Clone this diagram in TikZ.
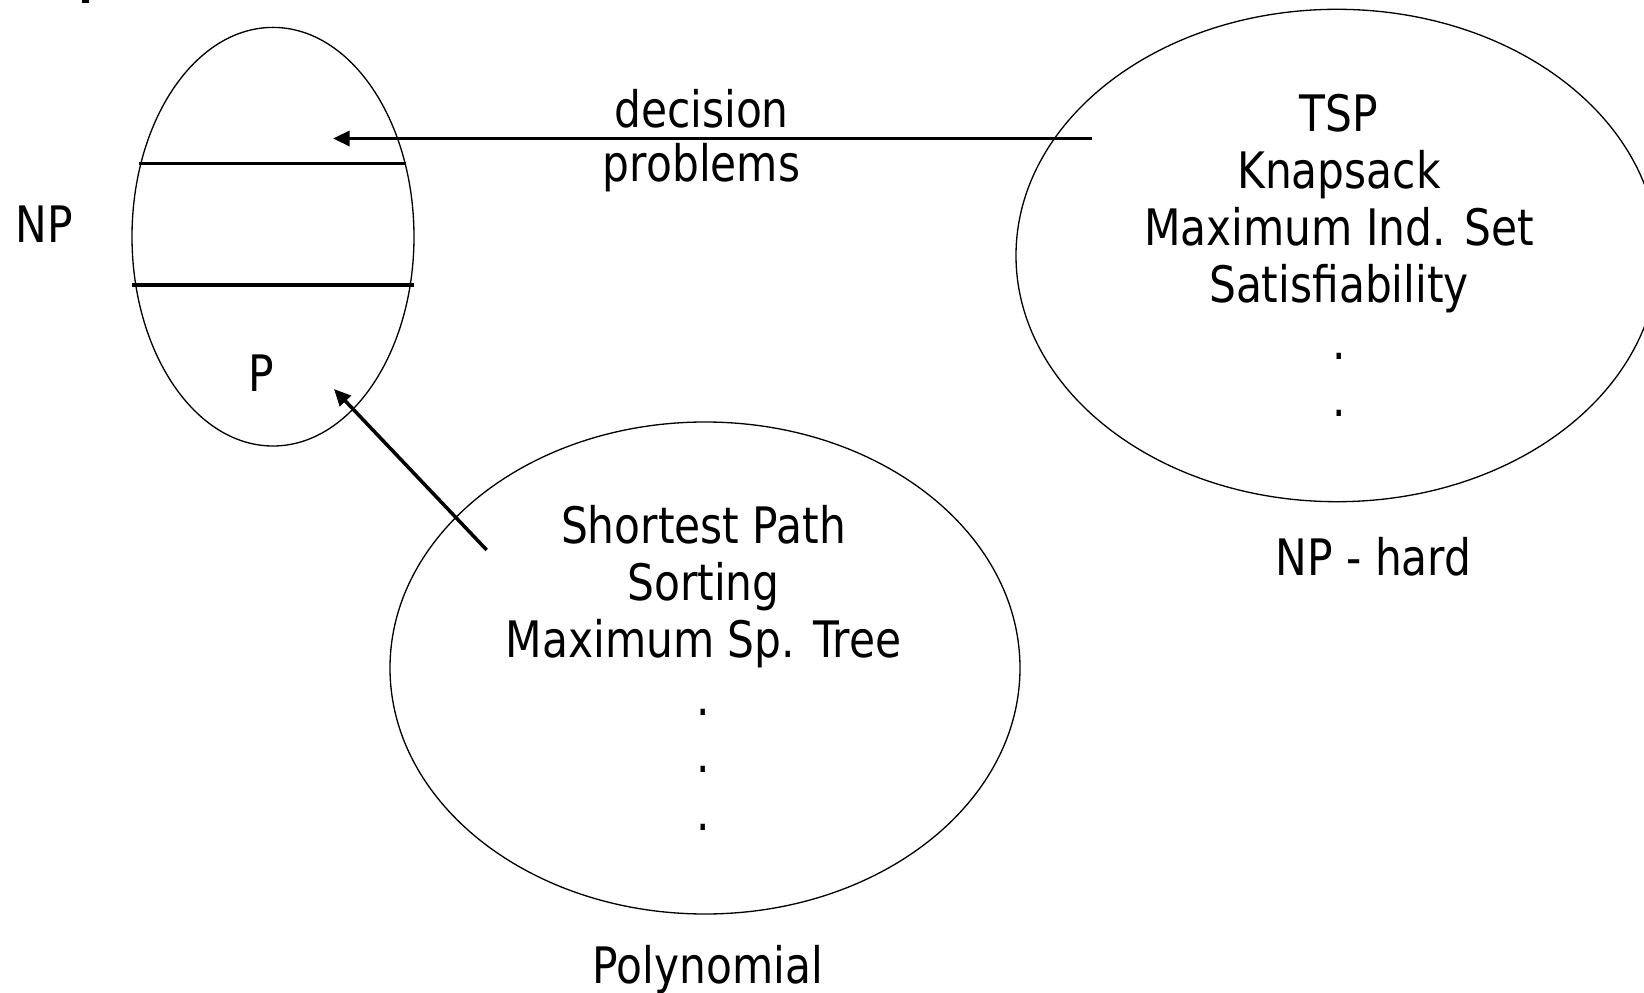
\documentclass[tikz,border=0pt]{standalone}
\usepackage{fontspec}
\setmainfont{DejaVu Sans}[FakeStretch=0.843]
\usetikzlibrary{arrows.meta}

\tikzset{
  txt/.style={font=\fontsize{28.6}{32}\selectfont,inner sep=0pt,anchor=base},
  set/.style={line width=0.75pt},
  band/.style={line width=2pt},
  conn/.style={-{Triangle[length=9.5pt,width=8.5pt]},line width=2pt}
}

\begin{document}
\begin{tikzpicture}[x=0.02cm,y=-0.02cm]
  \useasboundingbox (0,0) rectangle (1644,993);
  \fill (82,0) rectangle (89,2.7);
  % the three sets
  \draw[set] (273,236.7) ellipse [x radius=141,y radius=209.3];
  \draw[set] (1337,255.5) ellipse [x radius=321,y radius=246.2];
  \draw[set] (705,668) ellipse [x radius=315,y radius=246];
  % bands inside NP
  \draw[band] (139,163.7) -- (405.7,163.7);
  \draw[band] (131.7,285) -- (414,285);
  % labels
  \node[txt] (np) at (44,242.7) {NP};
  \node[txt] (p) at (261.7,391.7) {P};
  \node[txt] (dec) at (701.5,127.5) {decision};
  \node[txt] (prob) at (701.5,182) {problems};
  \node[txt] (nphard) at (1373.6,575) {NP - hard};
  \node[txt] (poly) at (708,983.3) {Polynomial};
  \foreach \t [count=\i from 0] in {TSP,Knapsack,Maximum Ind. Set,Satisfiability,{.},{.}}
    \node[txt] (hard\i) at (1339,{131.7+56.9*\i}) {\t};
  \foreach \t [count=\i from 0] in {Shortest Path,Sorting,Maximum Sp. Tree,{.},{.},{.}}
    \node[txt] (easy\i) at (703.5,{543+57.4*\i}) {\t};
  % arrows
  \coordinate (dec-from) at (1092,138.5);
  \coordinate (dec-to) at (333,138.5);
  \coordinate (poly-from) at (486.7,550);
  \coordinate (poly-to) at (334,389);
  \draw[conn] (dec-from) -- (dec-to);
  \draw[conn] (poly-from) -- (poly-to);
\end{tikzpicture}
\end{document}
